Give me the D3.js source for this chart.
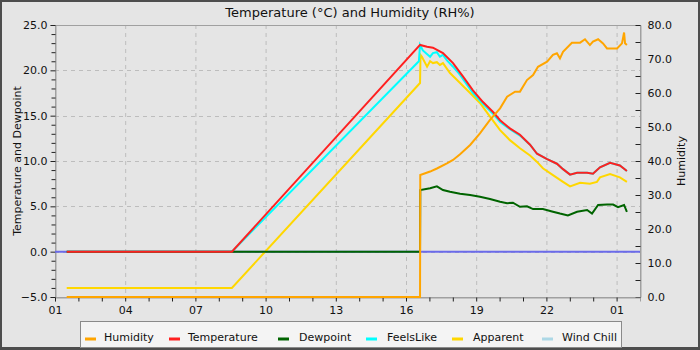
<!DOCTYPE html>
<html>
<head>
<meta charset="utf-8">
<script src="https://cdn.jsdelivr.net/npm/d3@7"></script>
<style>
html,body{margin:0;padding:0;background:#fff;}
svg{display:block;font-family:"DejaVu Sans",sans-serif;}
</style>
</head>
<body>
<svg id="chart" width="700" height="350"></svg>
<script>
// ---- data (hours since 00:00 of day 1) ----
const xTickHours = [1, 4, 7, 10, 13, 16, 19, 22, 25];
const legendNames = ["Humidity", "Temperature", "Dewpoint", "FeelsLike", "Apparent", "Wind Chill"];
const legendColors = ["#ffa500", "#ff2020", "#006400", "#00ffff", "#ffd700", "#add8e6"];

const tempHours = [1.5, 8.56, 16.6, 16.9, 17.15, 17.58, 18.01, 18.44, 18.86, 19.29, 19.72, 20.02, 20.44, 20.87, 21.30, 21.60, 22.03, 22.45, 22.71, 23.01, 23.31, 23.74, 23.99, 24.29, 24.72, 25.14, 25.44];
const tempVals  = [0, 0, 22.8, 22.6, 22.5, 21.9, 20.8, 19.3, 17.8, 16.5, 15.4, 14.5, 13.6, 12.9, 11.8, 10.8, 10.2, 9.7, 9.1, 8.5, 8.7, 8.7, 8.6, 9.3, 9.8, 9.5, 8.9];

const feelsHours = [1.5, 8.56, 16.55, 16.6, 16.72, 17.03, 17.15, 17.32, 17.45, 17.58, 17.75, 18.01, 18.31, 18.86, 19.29, 19.72, 20.02, 20.44, 20.87, 21.30, 21.60, 22.03, 22.45, 22.71, 23.01, 23.31, 23.74, 23.99, 24.29, 24.72, 25.14, 25.44];
const feelsVals  = [0, 0, 21.0, 22.8, 22.2, 21.5, 21.9, 22.0, 21.5, 21.7, 21.1, 20.4, 19.5, 17.5, 16.3, 15.2, 14.3, 13.5, 12.8, 11.8, 10.8, 10.2, 9.7, 9.1, 8.5, 8.7, 8.7, 8.6, 9.3, 9.8, 9.5, 8.9];

const appHours = [1.5, 8.56, 16.6, 16.62, 16.68, 16.90, 17.03, 17.15, 17.32, 17.45, 17.58, 17.88, 18.31, 18.74, 19.16, 19.59, 20.02, 20.44, 20.87, 21.30, 21.60, 21.85, 22.28, 22.71, 23.01, 23.44, 23.86, 24.16, 24.29, 24.72, 25.14, 25.44];
const appVals  = [-4, -4, 18.6, 21.7, 21.5, 20.4, 21.0, 20.8, 20.9, 20.6, 20.8, 19.7, 18.6, 17.5, 16.4, 14.9, 13.4, 12.3, 11.4, 10.6, 9.9, 9.2, 8.45, 7.7, 7.2, 7.6, 7.5, 7.7, 8.2, 8.55, 8.2, 7.7];

const dewHours = [1.5, 16.6, 16.61, 17.03, 17.32, 17.58, 17.88, 18.31, 18.74, 19.16, 19.59, 20.02, 20.32, 20.57, 20.87, 21.17, 21.43, 21.85, 22.28, 22.58, 22.92, 23.31, 23.74, 23.95, 24.21, 24.59, 24.85, 25.06, 25.32, 25.44];
const dewVals  = [0, 0, 6.8, 7.0, 7.2, 6.8, 6.6, 6.4, 6.25, 6.06, 5.8, 5.5, 5.35, 5.4, 4.95, 5.0, 4.7, 4.7, 4.4, 4.2, 4.0, 4.4, 4.6, 4.2, 5.15, 5.2, 5.2, 4.9, 5.15, 4.4];

const humHours = [1.5, 16.6, 16.61, 17.03, 17.32, 17.75, 18.01, 18.31, 18.74, 19.16, 19.59, 20.02, 20.32, 20.66, 20.87, 21.17, 21.43, 21.64, 22.03, 22.28, 22.45, 22.58, 22.71, 23.09, 23.44, 23.65, 23.86, 23.99, 24.21, 24.42, 24.59, 25.02, 25.23, 25.32, 25.36, 25.44];
const humVals  = [0, 0, 35.9, 36.9, 37.8, 39.3, 40.3, 42.0, 44.7, 48.1, 52.1, 55.5, 58.9, 60.4, 60.4, 63.8, 65.3, 67.7, 69.2, 71.2, 71.7, 70.2, 72.1, 74.8, 74.8, 75.8, 74.1, 75.1, 75.8, 74.6, 73.1, 73.1, 74.6, 77.8, 74.6, 74.1];

const windChillHours = [1, 26];
const windChillVals = [0, 0];

// ---- layout ----
const svg = d3.select("#chart");
const L = 55, R = 640, T = 25, B = 297;
const bg = "#e5e5e5";

svg.append("rect").attr("x",0).attr("y",0).attr("width",700).attr("height",350).attr("fill","#4d4d4d");
svg.append("rect").attr("x",2).attr("y",2).attr("width",696).attr("height",345).attr("fill",bg);

const x = d3.scaleLinear().domain([1, 26]).range([L, R]);
const yL = d3.scaleLinear().domain([-5, 25]).range([B, T]);
const yR = d3.scaleLinear().domain([0, 80]).range([B, T]);

// grid
const grid = svg.append("g").attr("stroke","#bdbdbd").attr("stroke-dasharray","4,4").attr("stroke-width",1);
xTickHours.filter(h => h > 1).forEach(h => {
  grid.append("line").attr("x1", x(h)+0.5).attr("x2", x(h)+0.5).attr("y1", T).attr("y2", B);
});
d3.range(0, 25, 5).forEach(v => {
  grid.append("line").attr("x1", L).attr("x2", R).attr("y1", Math.round(yL(v))+0.5).attr("y2", Math.round(yL(v))+0.5);
});

// frame
svg.append("rect").attr("x",L+0.5).attr("y",T+0.5).attr("width",R-L).attr("height",B-T)
  .attr("fill","none").attr("stroke","#a0a0a0");

// axes
const fmt = d3.format(".1f");
function styleAxis(g){
  g.select(".domain").attr("stroke","#a0a0a0");
  g.selectAll(".tick line").attr("stroke","#222");
  g.selectAll("text").attr("fill","#111").style("font-size","11px").style("font-family","DejaVu Sans");
}
const axL = svg.append("g").attr("transform",`translate(${L+0.5},0)`)
  .call(d3.axisLeft(yL).tickValues(d3.range(-5, 26, 5)).tickFormat(fmt).tickSize(5).tickPadding(3));
styleAxis(axL);
svg.append("g").attr("transform",`translate(${L+0.5},0)`)
  .call(d3.axisLeft(yL).tickValues(d3.range(-5, 26, 1).filter(v => v % 5 !== 0)).tickFormat("").tickSize(4))
  .call(g => { g.select(".domain").remove(); g.selectAll(".tick line").attr("stroke","#222"); });

const axR = svg.append("g").attr("transform",`translate(${R+0.5},0)`)
  .call(d3.axisRight(yR).tickValues(d3.range(0, 81, 10)).tickFormat(fmt).tickSizeInner(-5).tickSizeOuter(0).tickPadding(7));
styleAxis(axR);
svg.append("g").attr("transform",`translate(${R+0.5},0)`)
  .call(d3.axisRight(yR).tickValues(d3.range(5, 80, 10)).tickFormat("").tickSizeInner(-5).tickSizeOuter(0))
  .call(g => { g.select(".domain").remove(); g.selectAll(".tick line").attr("stroke","#222"); });

const axB = svg.append("g").attr("transform",`translate(0,${B+0.5})`)
  .call(d3.axisBottom(x).tickValues(xTickHours).tickFormat(h => String(h % 24).padStart(2,"0")).tickSize(4).tickPadding(5));
styleAxis(axB);
svg.append("g").attr("transform",`translate(0,${B+0.5})`)
  .call(d3.axisBottom(x).tickValues(d3.range(2, 26, 1).filter(h => (h-1) % 3 !== 0)).tickFormat("").tickSize(4))
  .call(g => { g.select(".domain").remove(); g.selectAll(".tick line").attr("stroke","#222"); });

// lines (drawn in reverse legend order)
function drawLine(hours, vals, yScale, color, width){
  const pts = hours.map((h,i) => [h, vals[i]]);
  svg.append("path").datum(pts)
    .attr("fill","none").attr("stroke",color).attr("stroke-width",width)
    .attr("stroke-linejoin","miter")
    .attr("d", d3.line().x(d => x(d[0])).y(d => yScale(d[1])));
}
drawLine(windChillHours, windChillVals, yL, "#6b6bea", 2);
drawLine(appHours, appVals, yL, "#ffd700", 2);
drawLine(feelsHours, feelsVals, yL, "#00ffff", 2);
drawLine(dewHours, dewVals, yL, "#006400", 2);
drawLine(tempHours, tempVals, yL, "#ff2020", 2);
drawLine(humHours, humVals, yR, "#ffa500", 2);

// titles
svg.append("text").attr("x",350).attr("y",17).attr("text-anchor","middle")
  .style("font-size","13px").attr("fill","#111").text("Temperature (°C) and Humidity (RH%)");
svg.append("text").attr("transform",`translate(21,${(T+B)/2}) rotate(-90)`).attr("text-anchor","middle")
  .style("font-size","11px").attr("fill","#111").text("Temperature and Dewpoint");
svg.append("text").attr("transform",`translate(685,${(T+B)/2}) rotate(-90)`).attr("text-anchor","middle")
  .style("font-size","11px").attr("fill","#111").text("Humidity");

// legend
svg.append("rect").attr("x",80.5).attr("y",321.5).attr("width",541).attr("height",26)
  .attr("fill","#f4f4f4").attr("stroke","#8a8a8a");
const swX = [85, 169, 278, 366, 452, 542];
const txX = [104, 188, 299, 387, 473, 562];
legendNames.forEach((n,i) => {
  svg.append("line").attr("x1",swX[i]).attr("x2",swX[i]+11).attr("y1",339).attr("y2",339)
    .attr("stroke",legendColors[i]).attr("stroke-width",3);
  svg.append("text").attr("x",txX[i]).attr("y",341).style("font-size","11px").attr("fill","#111").text(n);
});
</script>
</body>
</html>
